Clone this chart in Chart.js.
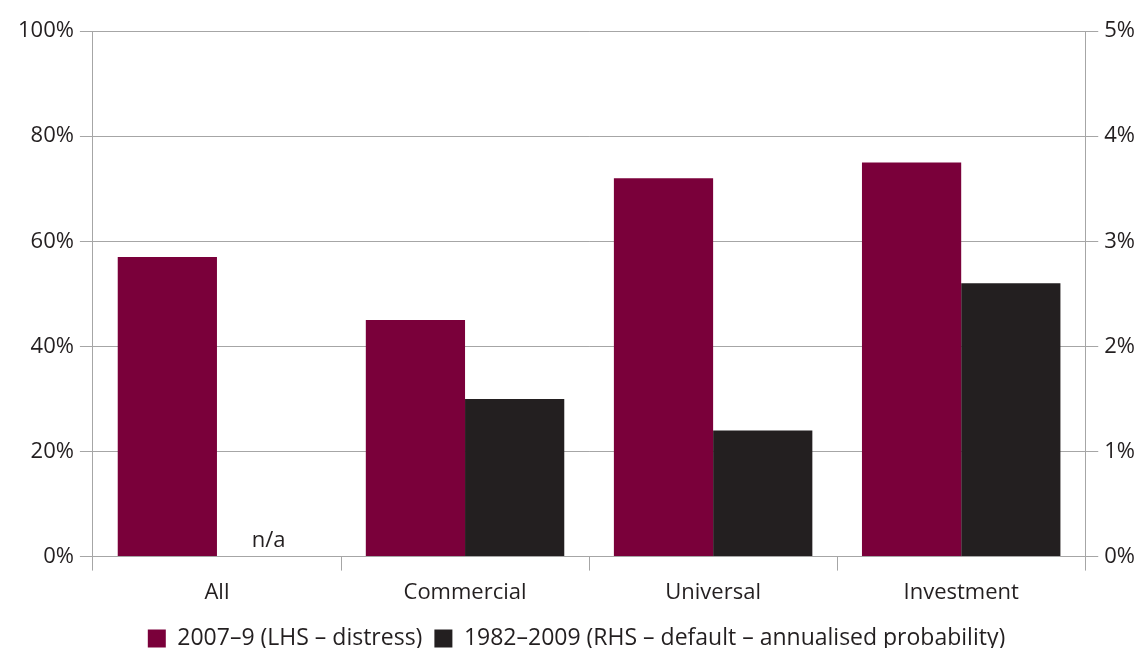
<!DOCTYPE html>
<html lang="en">
<head>
    <meta charset="UTF-8">
    <title>Bank distress and default by type</title>
    <style>
        body {
            margin: 0;
            background: #ffffff;
        }
        #wrap {
            width: 1143px;
            height: 648px;
        }
    </style>
    <script src="https://cdn.jsdelivr.net/npm/chart.js"></script>
</head>
<body>
    <div id="wrap"><canvas id="bankChart"></canvas></div>
    <script>
        // Bank types on the x axis
        const categories = ['All', 'Commercial', 'Universal', 'Investment'];
        // 2007–9 distress share, left axis (%)
        const distress = [57, 45, 72, 75];
        // 1982–2009 annualised default probability, right axis (%); no figure for All
        const defaultProb = [null, 1.5, 1.2, 2.6];
        const leftTicks = [0, 20, 40, 60, 80, 100];
        const rightTicks = [0, 1, 2, 3, 4, 5];

        const textColor = '#231f20';
        const gridColor = '#a6a6a6';
        const fontFamily = '"Open Sans", sans-serif';

        // writes "n/a" where a series has no value
        const naLabel = {
            id: 'naLabel',
            afterDatasetsDraw(chart) {
                const ctx = chart.ctx;
                const meta = chart.getDatasetMeta(1);
                const yScale = chart.scales.y;
                defaultProb.forEach((v, i) => {
                    if (v !== null) return;
                    const el = meta.data[i];
                    ctx.save();
                    ctx.fillStyle = textColor;
                    ctx.font = '22px ' + fontFamily;
                    ctx.textAlign = 'center';
                    ctx.textBaseline = 'middle';
                    ctx.fillText('n/a', el.x + 2, yScale.getPixelForValue(0) - 16);
                    ctx.restore();
                });
            }
        };

        new Chart(document.getElementById('bankChart'), {
            type: 'bar',
            data: {
                labels: categories,
                datasets: [{
                    label: '2007–9 (LHS – distress)',
                    data: distress,
                    backgroundColor: '#7a003a',
                    yAxisID: 'y',
                    categoryPercentage: 0.8,
                    barPercentage: 1.0
                }, {
                    label: '1982–2009 (RHS – default – annualised probability)',
                    data: defaultProb,
                    backgroundColor: '#231f20',
                    yAxisID: 'y2',
                    categoryPercentage: 0.8,
                    barPercentage: 1.0
                }]
            },
            options: {
                responsive: true,
                maintainAspectRatio: false,
                animation: false,
                layout: {
                    padding: { left: 12, right: 2, top: 31, bottom: -12 }
                },
                plugins: {
                    tooltip: { enabled: false },
                    legend: {
                        position: 'bottom',
                        labels: {
                            color: textColor,
                            font: { size: 23, family: fontFamily },
                            boxWidth: 18,
                            boxHeight: 18,
                            padding: 12
                        }
                    }
                },
                scales: {
                    x: {
                        grid: {
                            drawOnChartArea: false,
                            color: gridColor,
                            tickLength: 14
                        },
                        border: { color: gridColor },
                        ticks: {
                            color: textColor,
                            font: { size: 22, family: fontFamily },
                            padding: 9
                        }
                    },
                    y: {
                        position: 'left',
                        min: 0,
                        max: 100,
                        afterBuildTicks(axis) {
                            axis.ticks = leftTicks.map(v => ({ value: v }));
                        },
                        grid: {
                            color: gridColor,
                            tickLength: 13
                        },
                        border: { color: gridColor },
                        ticks: {
                            color: textColor,
                            font: { size: 22, family: fontFamily },
                            padding: 6,
                            callback: v => v + '%'
                        }
                    },
                    y2: {
                        position: 'right',
                        min: 0,
                        max: 5,
                        afterBuildTicks(axis) {
                            axis.ticks = rightTicks.map(v => ({ value: v }));
                        },
                        grid: {
                            drawOnChartArea: false,
                            color: gridColor,
                            tickLength: 13
                        },
                        border: { color: gridColor },
                        ticks: {
                            color: textColor,
                            font: { size: 22, family: fontFamily },
                            padding: 6,
                            callback: v => v + '%'
                        }
                    }
                }
            },
            plugins: [naLabel]
        });
    </script>
</body>
</html>
